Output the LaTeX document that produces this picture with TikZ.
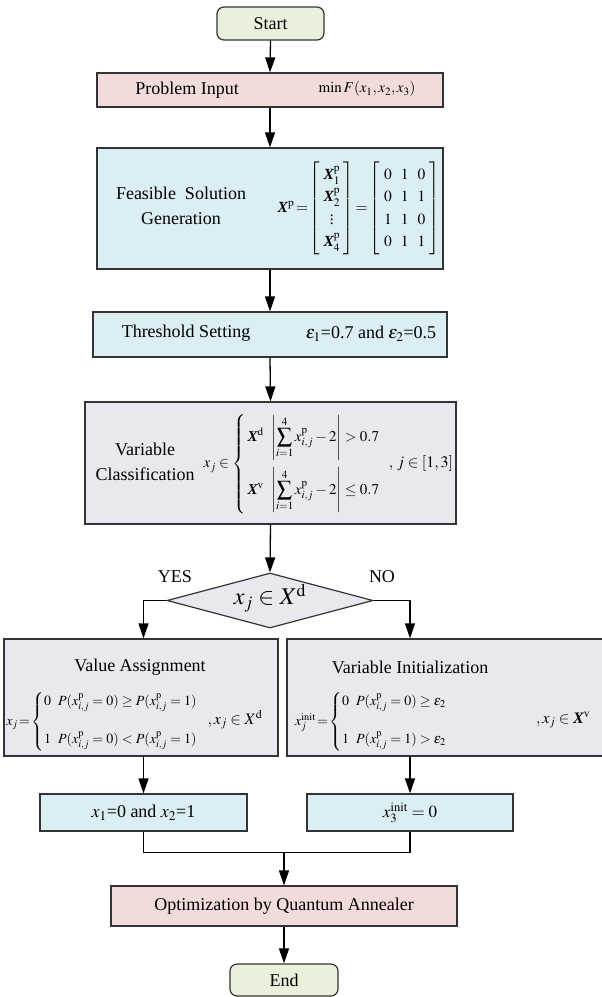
\documentclass[tikz,border=0pt]{standalone}
\usepackage{amsmath}
\usepackage{mathptmx}
\usepackage[no-math]{fontspec}
\setmainfont{Liberation Serif}
\usetikzlibrary{shapes.geometric,arrows.meta,calc}
\definecolor{startc}{HTML}{E9F0DC}
\definecolor{pinkc}{HTML}{F2DCDB}
\definecolor{bluec}{HTML}{DBEEF3}
\definecolor{lavc}{HTML}{EBE7EF}
\definecolor{edgec}{HTML}{333333}
\newcommand{\BX}{\text{\bfseries\itshape X}}
\newcommand{\fsz}[1]{\fontsize{#1}{#1}\selectfont}
\begin{document}
\begin{tikzpicture}[x=1pt,y=-1pt,
  box/.style={draw=edgec, line width=1.2pt, rectangle, inner sep=0pt},
  term/.style={box, rounded corners=7pt, fill=startc},
  lbl/.style={inner sep=0pt, font=\fontsize{18}{25}\selectfont},
  mth/.style={inner sep=0pt},
  arr/.style={-{Triangle[length=15pt,width=10pt]}, line width=1.3pt, draw=black},
  ln/.style={line width=1.3pt, draw=black}]
\useasboundingbox (0,0) rectangle (602,997);
\clip (0,0) rectangle (602,997);
% boxes
\node[term, minimum width=107pt, minimum height=33pt] (start) at (270.5,23.5) {};
\node[box, fill=pinkc, minimum width=346pt, minimum height=34pt] (prob) at (270,90) {};
\node[box, fill=bluec, minimum width=346pt, minimum height=121pt] (feas) at (270,208.5) {};
\node[box, fill=bluec, minimum width=354pt, minimum height=45pt] (thr) at (270,334.5) {};
\node[box, fill=lavc, minimum width=371pt, minimum height=122pt] (cls) at (270.5,463) {};
\node[diamond, aspect=3.75, draw=edgec, line width=1.2pt, fill=lavc, inner sep=0pt, minimum width=206pt, minimum height=55pt] (dia) at (270,600.5) {};
\node[box, fill=lavc, minimum width=274pt, minimum height=117pt] (va) at (141,697.5) {};
\node[box, fill=lavc, minimum width=330pt, minimum height=117pt] (vi) at (452,697.5) {};
\node[box, fill=bluec, minimum width=207pt, minimum height=37pt] (ra) at (143.5,812.5) {};
\node[box, fill=bluec, minimum width=206pt, minimum height=37pt] (rb) at (410,812.5) {};
\node[box, fill=pinkc, minimum width=346pt, minimum height=40pt] (opt) at (284,906) {};
\node[term, minimum width=108pt, minimum height=32pt] (end) at (284,980) {};
% texts
\node[lbl] (startT) at (start.center) {Start};
\node[lbl] (probT) at (187,90) {Problem Input};
\node[mth] (probM) at (367,89) {\fsz{15}$\min F(x_1,x_2,x_3)$};
\node[lbl, align=center] (feasT) at (181,206) {Feasible\ \ Solution\\Generation};
\node[mth] (feasM) at (359,208.5) {\fsz{15.5}\renewcommand{\arraystretch}{1.45}\setlength{\arraycolsep}{4.5pt}%
 $\BX^{\mathrm p}\!=\!\left[\begin{array}{@{\;}c@{\;}}\BX_1^{\mathrm p}\\ \BX_2^{\mathrm p}\\ \vdots\\ \BX_4^{\mathrm p}\end{array}\right]
 \!=\!\left[\begin{array}{ccc}0&1&0\\0&1&1\\1&1&0\\0&1&1\end{array}\right]$};
\node[lbl] (thrT) at (186,333) {Threshold Setting};
\node[lbl] (thrM) at (371,334) {$\varepsilon_1$=0.7 and $\varepsilon_2$=0.5};
\node[lbl, align=center] (clsT) at (145,462) {Variable\\Classification};
\node[mth] (clsM) at (292,464) {\fsz{15}%
 $x_j \in \left\{\begin{array}{@{\,}l@{\ \ }l@{}}
 \BX^{\mathrm d} & \left|\displaystyle\sum_{i=1}^{4} x_{i,j}^{\mathrm p} - 2\right| > 0.7\\[22pt]
 \BX^{\mathrm v} & \left|\displaystyle\sum_{i=1}^{4} x_{i,j}^{\mathrm p} - 2\right| \le 0.7
 \end{array}\right.$};
\node[mth] (clsJ) at (421,463) {\fsz{16}$,\, j \in [1,3]$};
\node[mth] (diaM) at (270,598) {\fsz{24}$x_j \in X^{\mathrm d}$};
\node[lbl] (yes) at (175,577) {YES};
\node[lbl] (no) at (382,577) {NO};
\node[lbl] (vaT) at (140,667) {Value Assignment};
\node[mth] (vaM) at (102,722) {\fsz{14}\renewcommand{\arraystretch}{1.2}%
 $x_j\! =\! \left\{\begin{array}{@{}l@{\ \ }l@{}}
 0 & P(x_{i,j}^{\mathrm p}=0) \ge P(x_{i,j}^{\mathrm p}=1)\\[21pt]
 1 & P(x_{i,j}^{\mathrm p}=0) < P(x_{i,j}^{\mathrm p}=1)
 \end{array}\right.$};
\node[mth] (vaJ) at (235,720) {\fsz{16}$,x_j \in X^{\mathrm d}$};
\node[lbl] (viT) at (410,667) {Variable Initialization};
\node[mth] (viM) at (371,722) {\fsz{14}\renewcommand{\arraystretch}{1.2}%
 $x_j^{\mathrm{init}}\! =\! \left\{\begin{array}{@{}l@{\ \ }l@{}}
 0 & P(x_{i,j}^{\mathrm p}=0) \ge \varepsilon_2\\[21pt]
 1 & P(x_{i,j}^{\mathrm p}=1) > \varepsilon_2
 \end{array}\right.$};
\node[mth, anchor=west] (viJ) at (536,720) {\fsz{16}$,x_j \in \BX^{\mathrm v}$};
\node[lbl] (raT) at (ra.center) {$x_1$=0 and $x_2$=1};
\node[mth] (rbT) at (rb.center) {\fsz{17}$x_3^{\mathrm{init}} = 0$};
\node[lbl] (optT) at (opt.center) {Optimization by Quantum Annealer};
\node[lbl] (endT) at (end.center) {End};
% connectors
\draw[arr] (start.south) -- (prob.north);
\draw[arr] (prob.south) -- (feas.north);
\draw[arr] (feas.south) -- (thr.north);
\draw[arr] (thr.south) -- (cls.north);
\draw[arr] (cls.south) -- (dia.north);
\draw[arr] (dia.west) -| (va.north -| ra.north);
\draw[arr] (dia.east) -| (vi.north -| rb.north);
\draw[arr] (va.south -| ra.north) -- (ra.north);
\draw[arr] (vi.south -| rb.north) -- (rb.north);
\coordinate (mrg) at ($(opt.north)+(0,-33)$);
\draw[ln] (ra.south) |- (mrg) -| (rb.south);
\draw[arr] (mrg) -- (opt.north);
\draw[arr] (opt.south) -- (end.north);
\end{tikzpicture}
\end{document}
